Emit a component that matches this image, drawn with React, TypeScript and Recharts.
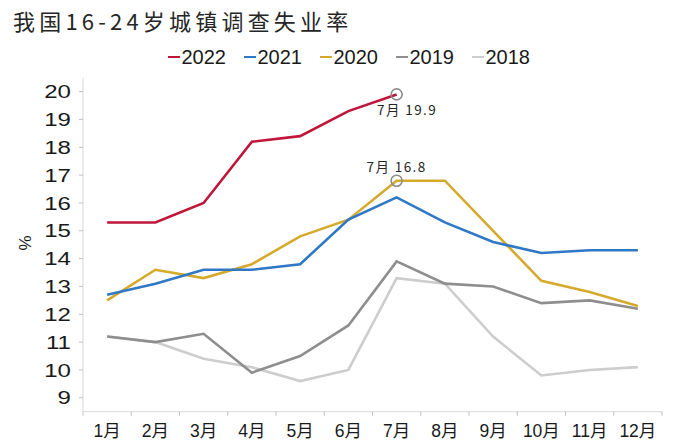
import React from 'react';
import { LineChart, Line, XAxis, YAxis, ReferenceDot } from 'recharts';

const months = [1, 2, 3, 4, 5, 6, 7, 8, 9, 10, 11, 12];
const monthLabel = (m: number) => `${m}月`;

const s2022 = [15.3, 15.3, 16.0, 18.2, 18.4, 19.3, 19.9];
const s2021 = [12.7, 13.1, 13.6, 13.6, 13.8, 15.4, 16.2, 15.3, 14.6, 14.2, 14.3, 14.3];
const s2020 = [12.5, 13.6, 13.3, 13.8, 14.8, 15.4, 16.8, 16.8, 15.0, 13.2, 12.8, 12.3];
const s2019 = [11.2, 11.0, 11.3, 9.9, 10.5, 11.6, 13.9, 13.1, 13.0, 12.4, 12.5, 12.2];
const s2018 = [11.2, 11.0, 10.4, 10.1, 9.6, 10.0, 13.3, 13.1, 11.2, 9.8, 10.0, 10.1];

const yTicks = [9, 10, 11, 12, 13, 14, 15, 16, 17, 18, 19, 20];

const title = '我国16-24岁城镇调查失业率';
const yUnit = '%';

const series = [
  { key: 'y2022', name: '2022', values: s2022, color: '#C0163A' },
  { key: 'y2021', name: '2021', values: s2021, color: '#2E78C6' },
  { key: 'y2020', name: '2020', values: s2020, color: '#D5AA2C' },
  { key: 'y2019', name: '2019', values: s2019, color: '#8E8E8E' },
  { key: 'y2018', name: '2018', values: s2018, color: '#CDCDCD' },
];

const annotations = [
  { month: 7, value: 19.9, text: '7月 19.9', dx: 10.5, dy: 20.5 },
  { month: 7, value: 16.8, text: '7月 16.8', dx: 0, dy: -9 },
];

const data = months.map((m, i) => {
  const row: Record<string, number | null> = { m };
  series.forEach((s) => {
    row[s.key] = i < s.values.length ? s.values[i] : null;
  });
  return row;
});

const W = 673;
const H = 441;
const PLOT_LEFT = 83;
const PLOT_RIGHT = 662;
const PLOT_TOP = 77.7;
const PLOT_BOTTOM = 411.7;
const BAND = (PLOT_RIGHT - PLOT_LEFT) / months.length;
const Y_AXIS_W = 60;

const cjk = '"Noto Sans CJK SC", "Noto Sans", sans-serif';
const latin = '"Liberation Sans", Arial, sans-serif';
const mixed = '"Liberation Sans", "Noto Sans CJK SC", sans-serif';

const XTick = (props: any) => {
  const { x, y, payload, index } = props;
  const isLast = index === months.length - 1;
  return (
    <g>
      <line x1={x - BAND / 2} x2={x - BAND / 2} y1={y} y2={y + 4} stroke="#BFBFBF" strokeWidth={1} />
      {isLast && (
        <line x1={x + BAND / 2} x2={x + BAND / 2} y1={y} y2={y + 4} stroke="#BFBFBF" strokeWidth={1} />
      )}
      <text x={x} y={y} dy={25.5} textAnchor="middle" fontFamily={mixed} fontSize={17.5} fill="#1a1a1a">
        {monthLabel(payload.value)}
      </text>
    </g>
  );
};

const YTick = (props: any) => {
  const { x, y, payload } = props;
  return (
    <text
      transform={`translate(${x},${y}) scale(1.3,1)`}
      textAnchor="end"
      dy="0.36em"
      fontFamily={latin}
      fontSize={18.5}
      fill="#1a1a1a"
    >
      {payload.value}
    </text>
  );
};

const makeLabel = (text: string, dx: number, dy: number) => (props: any) => {
  const vb = props.viewBox || {};
  const cx = vb.x + (vb.width || 0) / 2;
  const cy = vb.y + (vb.height || 0) / 2;
  return (
    <text
      x={cx + dx}
      y={cy + dy}
      textAnchor="middle"
      fontFamily={cjk}
      fontSize={13.5}
      letterSpacing={1.4}
      fill="#262626"
    >
      {text}
    </text>
  );
};

export default function App() {
  return (
    <div style={{ position: 'absolute', left: 0, top: 0, width: W, height: H, background: '#fff' }}>
      <div
        style={{
          position: 'absolute',
          left: 13,
          top: 6,
          fontFamily: cjk,
          fontSize: 22,
          letterSpacing: 4.2,
          color: '#262626',
          lineHeight: '28px',
          whiteSpace: 'nowrap',
        }}
      >
        {title}
      </div>
      <div
        style={{
          position: 'absolute',
          left: 168,
          top: 44,
          display: 'flex',
          alignItems: 'center',
          height: 26,
          whiteSpace: 'nowrap',
        }}
      >
        {series.map((s) => (
          <div key={s.key} style={{ display: 'flex', alignItems: 'center', width: 76 }}>
            <span style={{ display: 'inline-block', width: 12, height: 2.5, background: s.color, marginRight: 1.5 }} />
            <span style={{ fontFamily: latin, fontSize: 20, color: '#1a1a1a', lineHeight: '26px' }}>{s.name}</span>
          </div>
        ))}
      </div>
      <div
        style={{
          position: 'absolute',
          left: 25.5,
          top: 242.5,
          transform: 'translate(-50%,-50%) rotate(-90deg)',
          fontFamily: latin,
          fontSize: 17,
          color: '#1a1a1a',
          lineHeight: '20px',
        }}
      >
        {yUnit}
      </div>
      <LineChart
        width={W}
        height={H}
        data={data}
        margin={{ top: PLOT_TOP, right: W - PLOT_RIGHT, bottom: 0, left: PLOT_LEFT - Y_AXIS_W }}
      >
        <XAxis
          dataKey="m"
          type="number"
          domain={[0.5, 12.5]}
          ticks={months}
          interval={0}
          height={H - PLOT_BOTTOM}
          tickLine={false}
          tickSize={0}
          tickMargin={0}
          axisLine={{ stroke: '#D9D9D9', strokeWidth: 1 }}
          tick={<XTick />}
          allowDataOverflow
        />
        <YAxis
          type="number"
          domain={[8.5, 20.5]}
          ticks={yTicks}
          interval={0}
          width={Y_AXIS_W}
          tickSize={4}
          tickMargin={8}
          tickLine={{ stroke: '#BFBFBF', strokeWidth: 1 }}
          axisLine={{ stroke: '#D9D9D9', strokeWidth: 1 }}
          tick={<YTick />}
          allowDataOverflow
        />
        {series
          .slice()
          .reverse()
          .map((s) => (
            <Line
              key={s.key}
              dataKey={s.key}
              name={s.name}
              stroke={s.color}
              strokeWidth={2.6}
              dot={false}
              activeDot={false}
              type="linear"
              isAnimationActive={false}
              connectNulls={false}
            />
          ))}
        {annotations.map((a, i) => (
          <ReferenceDot
            key={i}
            x={a.month}
            y={a.value}
            r={5.5}
            fill="none"
            stroke="#8C8C8C"
            strokeWidth={1.6}
            label={makeLabel(a.text, a.dx, a.dy)}
          />
        ))}
      </LineChart>
    </div>
  );
}
